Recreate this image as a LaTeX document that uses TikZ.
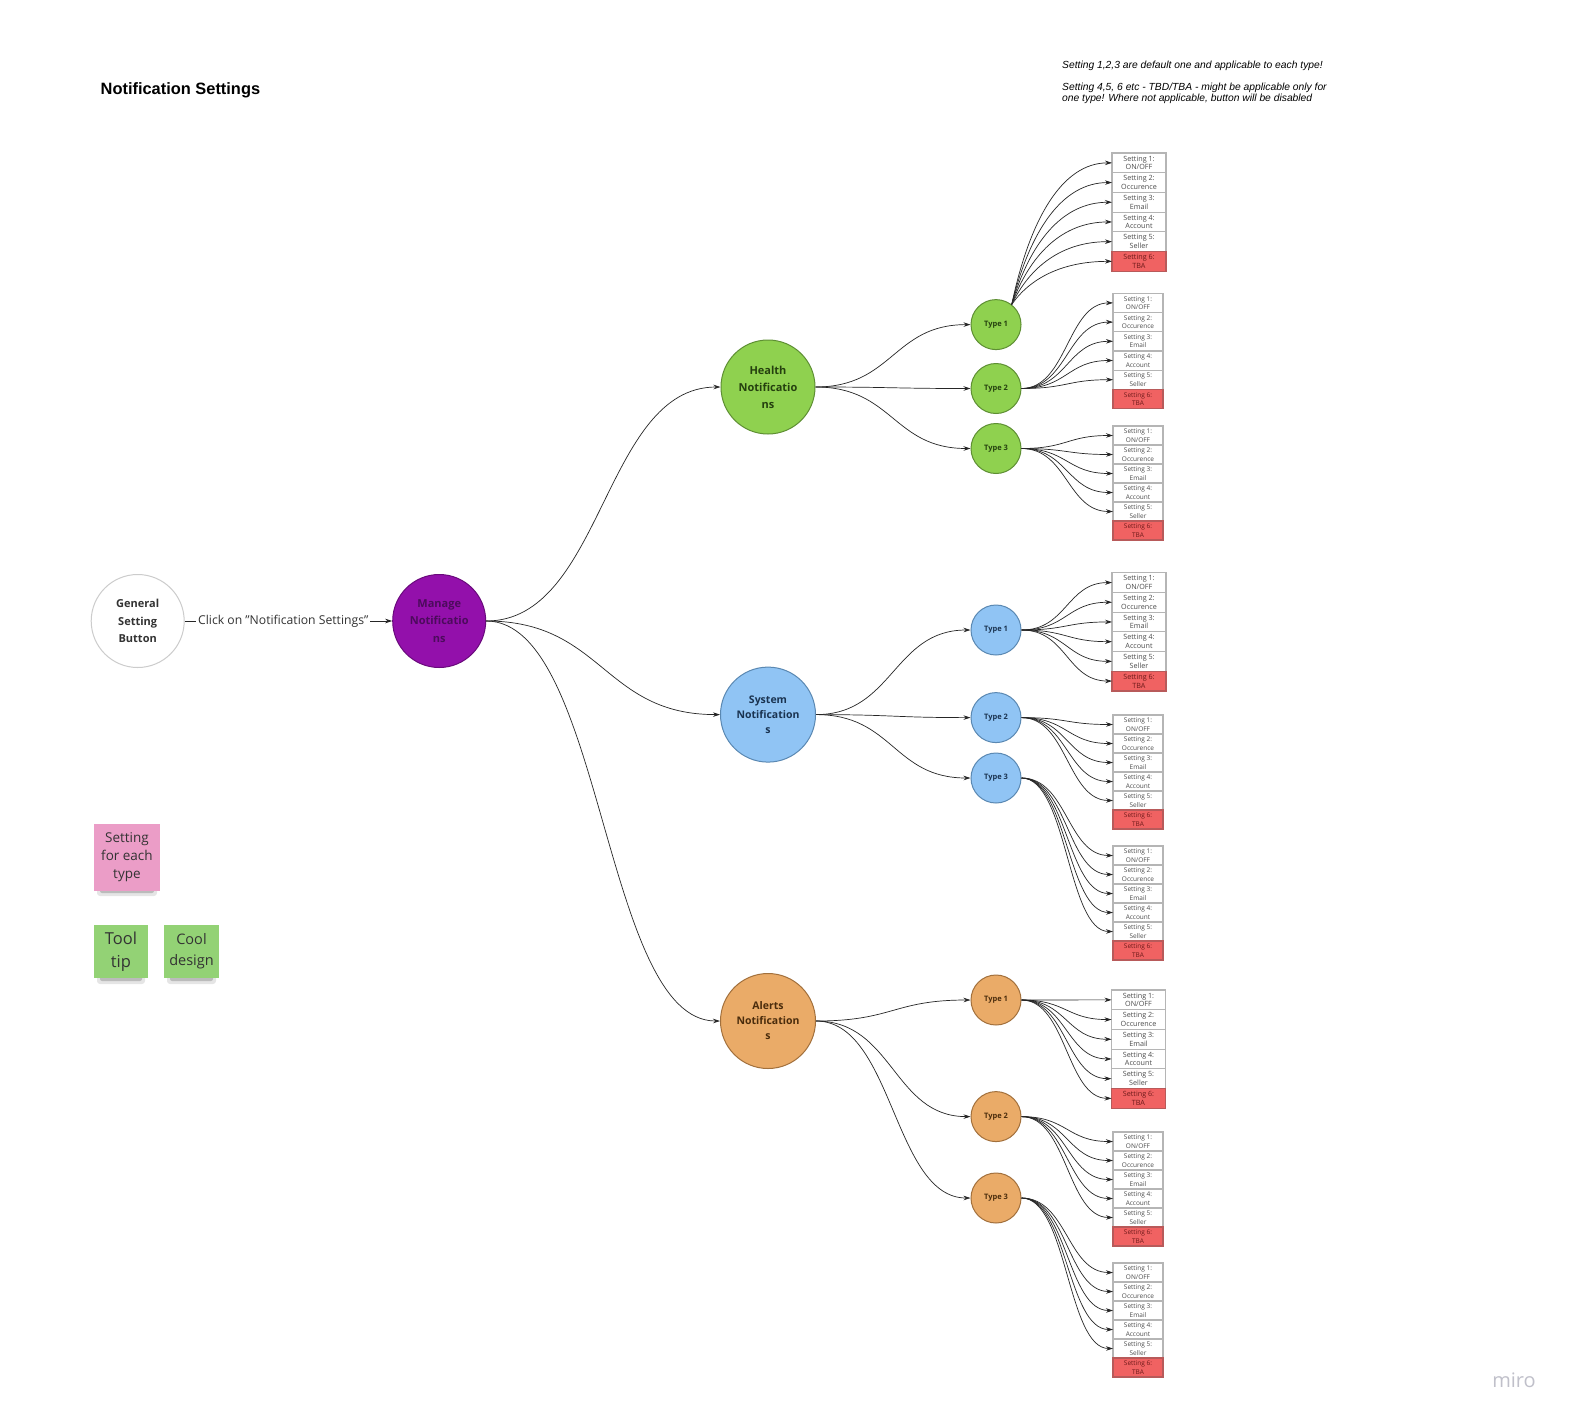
\documentclass[tikz,border=0pt]{standalone}
\usepackage{fontspec}
\setmainfont{Open Sans}
\newfontfamily\arialf{Liberation Sans}
\usetikzlibrary{arrows.meta,calc}
\definecolor{boxgray}{HTML}{B5B5B5}
\definecolor{tbared}{HTML}{F06262}
\definecolor{tbaborder}{HTML}{B85A5A}
\definecolor{tbatext}{HTML}{6E1A1A}
\definecolor{hgreen}{HTML}{8FD14F}
\definecolor{hgreenb}{HTML}{5E8F33}
\definecolor{hgreent}{HTML}{25400F}
\definecolor{sblue}{HTML}{90C4F4}
\definecolor{sblueb}{HTML}{5A88B2}
\definecolor{sbluet}{HTML}{1A3350}
\definecolor{aorange}{HTML}{EAAB68}
\definecolor{aorangeb}{HTML}{A2703C}
\definecolor{aoranget}{HTML}{4A2C0C}
\definecolor{mpurple}{HTML}{9310AB}
\definecolor{mpurpleb}{HTML}{6A0A7C}
\definecolor{mpurplet}{HTML}{4C0B5C}
\definecolor{gborder}{HTML}{CCCCCC}
\definecolor{pinkn}{HTML}{EB9DC7}
\definecolor{greenn}{HTML}{93D275}
\definecolor{mirogray}{HTML}{C0C0CA}
\tikzset{
  conn/.style={draw=black!85, line width=0.7pt, -{Stealth[length=7pt,width=4.5pt]}},
  sbox/.style={draw=boxgray, line width=1.2pt, fill=white, text=black!70, anchor=north west, inner sep=0pt, outer sep=0pt, align=center},
  sred/.style={sbox, fill=tbared, draw=tbaborder, text=tbatext},
  cat/.style={circle, inner sep=0pt, minimum size=94pt, align=center, line width=1pt},
  typ/.style={circle, inner sep=0pt, minimum size=50pt, align=center, line width=1pt, font=\fontsize{7.5}{9}\selectfont\bfseries},
  sticky/.style={anchor=north west, inner sep=0pt, align=center, text=black!80},
}
% #1 name, #2 x, #3 y, #4 width, #5 box height, #6 font size, #7 baselineskip
\newcommand\setstack[7]{%
  \foreach \ii/\lab in {1/{ON/OFF},2/Occurence,3/Email,4/Account,5/Seller}{%
    \node[sbox, minimum width=#4pt, minimum height=#5pt, font=\fontsize{#6}{#7}\selectfont] (#1-\ii) at (#2,{#3+(\ii-1)*#5}) {Setting \ii:\\\lab};
  }
  \node[sred, minimum width=#4pt, minimum height=#5pt, font=\fontsize{#6}{#7}\selectfont] (#1-6) at (#2,{#3+5*#5}) {Setting 6:\\TBA};
}
% #1 source point, #2 stack name, #3 count
\newcommand\fanout[3]{%
  \foreach \ii in {1,...,#3}{%
    \draw[conn] let \p1=(#1), \p2=(#2-\ii.west), \n1={(\x2-\x1)/2} in
      (\p1) .. controls +(\n1,0) and +(-\n1,0) .. (\p2);
  }
}
\newcommand\hconn[2]{%
  \draw[conn] let \p1=(#1), \p2=(#2), \n1={(\x2-\x1)/2} in
    (\p1) .. controls +(\n1,0) and +(-\n1,0) .. (\p2);
}
\begin{document}
\begin{tikzpicture}[x=1pt,y=-1pt]
\useasboundingbox (0,0) rectangle (1576,1427);
\fill[white] (0,0) rectangle (1576,1427);

% title and notes
\node[anchor=west, inner sep=0pt, font=\arialf\fontsize{16.4}{19}\selectfont\bfseries] (title) at (100.5,90) {Notification Settings};
\node[anchor=west, inner sep=0pt, font=\arialf\fontsize{10.3}{11}\selectfont\itshape] (note1) at (1062,66) {Setting 1,2,3 are default one and applicable to each type!};
\node[anchor=north west, inner sep=0pt, align=left, font=\arialf\fontsize{10.3}{11}\selectfont\itshape] (note2) at (1062,83) {Setting 4,5, 6 etc - TBD/TBA - might be applicable only for\\one type! Where not applicable, button will be disabled};

% main nodes
\node[cat, minimum size=93pt, draw=gborder, fill=white, text=black!80, font=\fontsize{11}{17.5}\selectfont\bfseries] (gen) at (137.7,621) {General\\Setting\\Button};
\node[cat, minimum size=93pt, draw=mpurpleb, fill=mpurple, text=mpurplet, font=\fontsize{11}{17.5}\selectfont\bfseries] (man) at (439.2,621) {Manage\\Notificatio\\ns};
\node[cat, draw=hgreenb, fill=hgreen, text=hgreent, font=\fontsize{11}{17}\selectfont\bfseries] (hea) at (768,387) {Health\\Notificatio\\ns};
\node[cat, minimum size=95pt, draw=sblueb, fill=sblue, text=sbluet, font=\fontsize{10.5}{15}\selectfont\bfseries] (sys) at (768,714.6) {System\\Notification\\s};
\node[cat, minimum size=95pt, draw=aorangeb, fill=aorange, text=aoranget, font=\fontsize{10.5}{15}\selectfont\bfseries] (ale) at (768,1021) {Alerts\\Notification\\s};

% type nodes
\node[typ, draw=hgreenb, fill=hgreen, text=hgreent] (ht1) at (996,324.6) {Type 1};
\node[typ, draw=hgreenb, fill=hgreen, text=hgreent] (ht2) at (996,388.5) {Type 2};
\node[typ, draw=hgreenb, fill=hgreen, text=hgreent] (ht3) at (996,448.5) {Type 3};
\node[typ, draw=sblueb, fill=sblue, text=sbluet] (st1) at (996,630) {Type 1};
\node[typ, draw=sblueb, fill=sblue, text=sbluet] (st2) at (996,717.6) {Type 2};
\node[typ, draw=sblueb, fill=sblue, text=sbluet] (st3) at (996,778) {Type 3};
\node[typ, draw=aorangeb, fill=aorange, text=aoranget] (at1) at (996,1000) {Type 1};
\node[typ, draw=aorangeb, fill=aorange, text=aoranget] (at2) at (996,1116.6) {Type 2};
\node[typ, draw=aorangeb, fill=aorange, text=aoranget] (at3) at (996,1198) {Type 3};

% setting stacks
\setstack{hs1}{1112}{153}{54}{19.7}{7.2}{8.8}
\setstack{hs2}{1113}{293.3}{50}{19.2}{6.5}{8.4}
\setstack{hs3}{1113}{426}{50}{19}{6.5}{8.4}
\setstack{ss1}{1112}{572.7}{54}{19.7}{7.2}{8.8}
\setstack{ss2}{1113}{715}{50}{19}{6.5}{8.4}
\setstack{ss3}{1113}{846}{50}{19}{6.5}{8.4}
\setstack{as1}{1111.5}{990}{54}{19.7}{7.2}{8.8}
\setstack{as2}{1113}{1132}{50}{19}{6.5}{8.4}
\setstack{as3}{1113}{1263}{50}{19}{6.5}{8.4}

% connectors
\draw[conn] (gen.east) -- node[pos=0.475, fill=white, inner xsep=2pt, inner ysep=1pt, text=black!80, font=\fontsize{12.2}{14}\selectfont] (clk) {Click on \symbol{34}Notification Settings\symbol{34}} (man.west);
\hconn{man.east}{hea.west}
\hconn{man.east}{sys.west}
\hconn{man.east}{ale.west}
\hconn{hea.east}{ht1.west}
\hconn{hea.east}{ht2.west}
\hconn{hea.east}{ht3.west}
\hconn{sys.east}{st1.west}
\hconn{sys.east}{st2.west}
\hconn{sys.east}{st3.west}
\hconn{ale.east}{at1.west}
\hconn{ale.east}{at2.west}
\hconn{ale.east}{at3.west}

\foreach \ii in {1,...,6}{%
  \draw[conn] let \p1=(ht1.52), \p2=(hs1-\ii.west), \n1={(\x2-\x1)/2}, \n2={0.6*(\y2-\y1)} in
    (\p1) .. controls +(18pt,\n2) and +(-\n1,0) .. (\p2);
}
\fanout{ht2.east}{hs2}{5}
\fanout{ht3.east}{hs3}{5}
\fanout{st1.east}{ss1}{6}
\fanout{st2.east}{ss2}{5}
\fanout{st3.east}{ss3}{5}
\fanout{at1.east}{as1}{6}
\fanout{at2.east}{as2}{5}
\fanout{at3.east}{as3}{5}

% sticky notes with shadows
\fill[black, opacity=0.10, rounded corners=3pt] (97,886) rectangle (157,896);
\fill[black, opacity=0.18, rounded corners=2pt] (100,888) rectangle (154,893);
\node[sticky, fill=pinkn, minimum width=66.5pt, minimum height=66.5pt, font=\fontsize{13.5}{18}\selectfont] (pink) at (93.5,824) {Setting\\for each\\type};
\fill[black, opacity=0.10, rounded corners=3pt] (97,974) rectangle (145,984);
\fill[black, opacity=0.18, rounded corners=2pt] (100,976) rectangle (142,981);
\node[sticky, fill=greenn, minimum width=54.5pt, minimum height=53.5pt, font=\fontsize{16.5}{23}\selectfont] (tool) at (93.5,924.6) {Tool\\tip};
\fill[black, opacity=0.10, rounded corners=3pt] (167,974) rectangle (216,984);
\fill[black, opacity=0.18, rounded corners=2pt] (170,976) rectangle (213,981);
\node[sticky, fill=greenn, minimum width=55pt, minimum height=53.5pt, font=\fontsize{14.5}{21}\selectfont] (cool) at (163.8,924.6) {Cool\\design};

% logo
\node[inner sep=0pt, text=mirogray, font=\fontsize{20}{22}\selectfont] (miro) at (1514,1380) {miro};
\end{tikzpicture}
\end{document}
